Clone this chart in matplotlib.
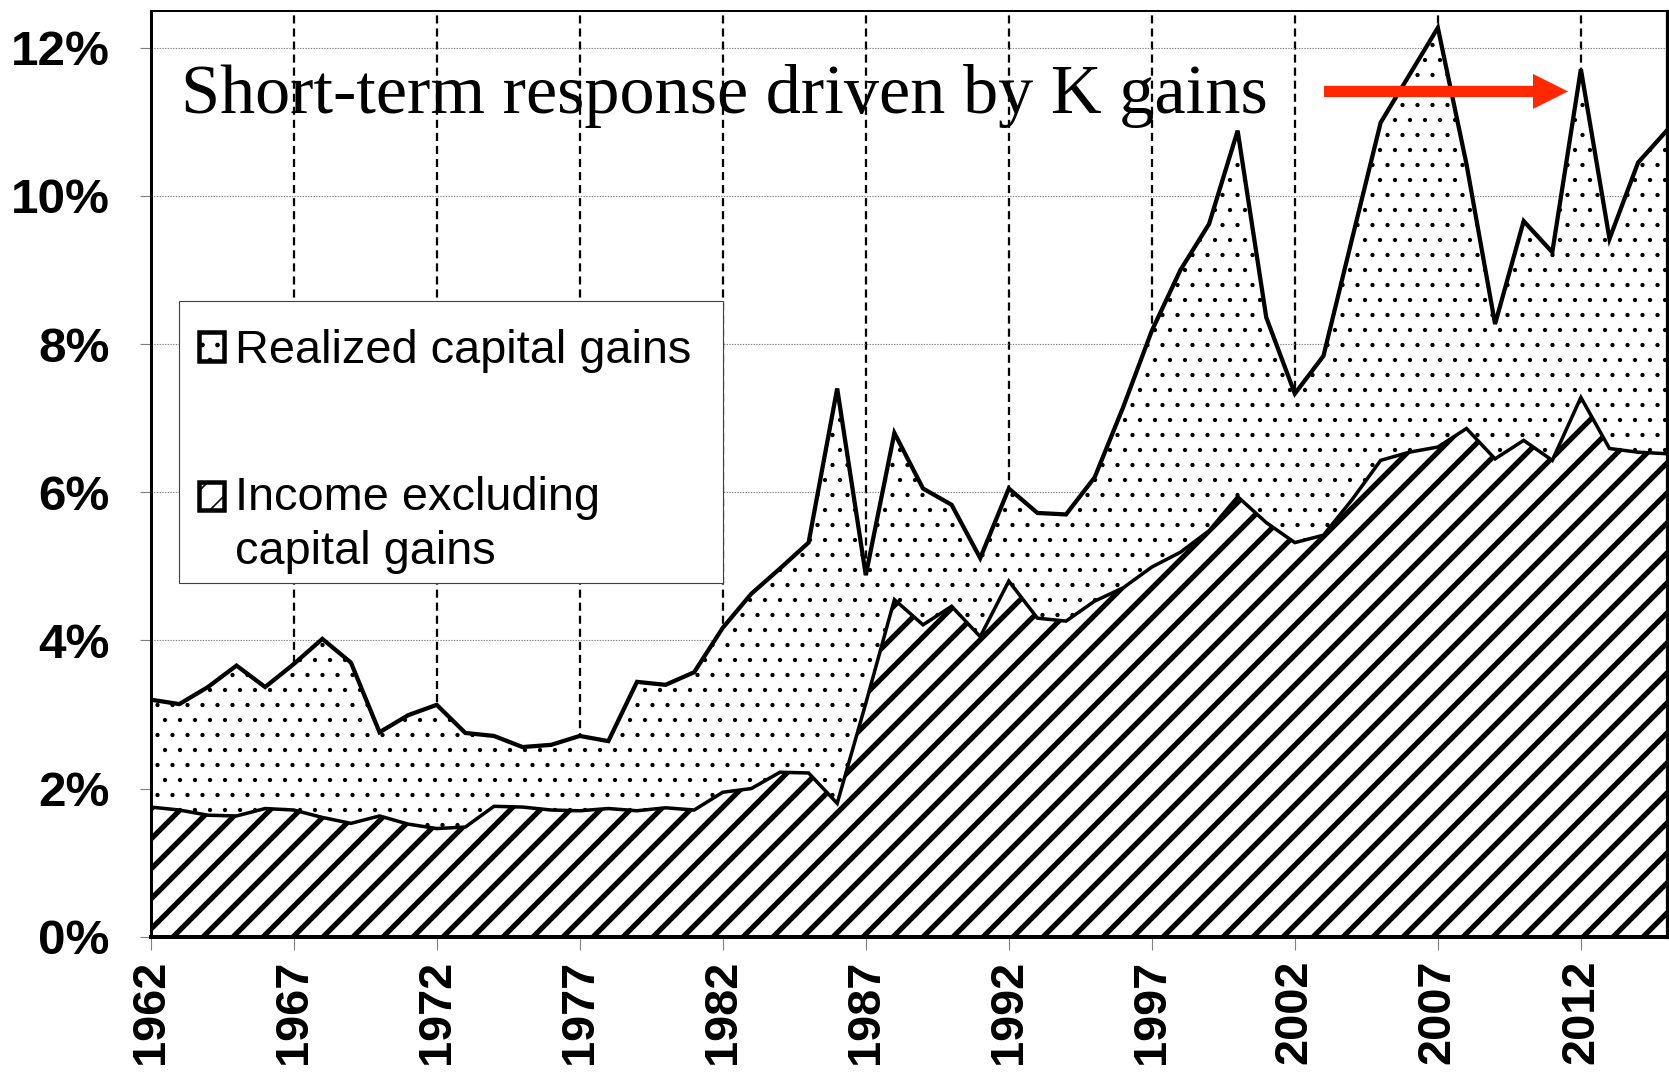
import matplotlib
matplotlib.use('Agg')
import matplotlib.pyplot as plt
from matplotlib.patches import Patch, Rectangle
from matplotlib.legend_handler import HandlerPatch
import numpy as np

# ---------------- data ----------------
years = list(range(1962, 2016))
income_ex_kg = [1.75, 1.71, 1.64, 1.63, 1.73, 1.71, 1.61, 1.53, 1.63, 1.52,
                1.46, 1.48, 1.76, 1.75, 1.71, 1.70, 1.73, 1.70, 1.74, 1.71,
                1.95, 2.00, 2.22, 2.21, 1.80, 3.15, 4.55, 4.21, 4.46, 4.05,
                4.80, 4.30, 4.26, 4.53, 4.71, 4.99, 5.19, 5.48, 5.94, 5.59,
                5.32, 5.42, 5.90, 6.43, 6.54, 6.61, 6.86, 6.45, 6.70, 6.43,
                7.28, 6.59, 6.54, 6.52]
realized_kg = [1.45, 1.43, 1.73, 2.03, 1.64, 1.97, 2.41, 2.17, 1.13, 1.47,
               1.67, 1.27, 0.95, 0.81, 0.88, 1.01, 0.91, 1.74, 1.66, 1.86,
               2.22, 2.63, 2.75, 3.11, 5.60, 1.73, 2.25, 1.84, 1.37, 1.06,
               1.25, 1.42, 1.44, 1.67, 2.44, 3.19, 3.81, 4.14, 4.94, 2.77,
               2.01, 2.42, 3.52, 4.56, 5.09, 5.66, 3.57, 1.82, 2.96, 2.81,
               4.43, 2.83, 3.91, 4.36]
x_tick_years = [1962, 1967, 1972, 1977, 1982, 1987, 1992, 1997, 2002, 2007, 2012]
x_tick_labels = [str(y) for y in x_tick_years]
y_ticks = [0, 2, 4, 6, 8, 10, 12]
y_tick_labels = ['0%', '2%', '4%', '6%', '8%', '10%', '12%']
legend_labels = ['Realized capital gains', 'Income excluding\ncapital gains']
annotation_text = 'Short-term response driven by K gains'
arrow_from = (2003.02, 11.41)
arrow_to = (2011.55, 11.41)

# ---------------- figure ----------------
DPI = 90
W, H = 1669, 1073
plt.rcParams['hatch.linewidth'] = 1.3
fig = plt.figure(figsize=(W / DPI, H / DPI), dpi=DPI)
ax_left, ax_right, ax_top, ax_bot = 150.7, 1666.7, 10.7, 936.7
ax = fig.add_axes([ax_left / W, 1 - ax_bot / H, (ax_right - ax_left) / W, (ax_bot - ax_top) / H])

x = np.array(years)
lower = np.array(income_ex_kg)
total = lower + np.array(realized_kg)

SANS = ['Liberation Sans', 'DejaVu Sans']
SERIF = ['Liberation Serif', 'DejaVu Serif']


def with_hatch_lw(artist, lw):
    """Draw an artist with its own hatch line width."""
    if hasattr(artist, 'set_hatch_linewidth'):
        artist.set_hatch_linewidth(lw)
    orig = artist.draw

    def draw(renderer, *args, **kwargs):
        with plt.rc_context({'hatch.linewidth': lw}):
            return orig(renderer, *args, **kwargs)
    artist.draw = draw


# dotted area (realized capital gains)
plt.rcParams['hatch.linewidth'] = 1.0
dots = ax.fill_between(x, lower, total, facecolor='white', edgecolor='black',
                       hatch='.', linewidth=0, zorder=1)
with_hatch_lw(dots, 1.0)
# hatched area (income excluding capital gains)
plt.rcParams['hatch.linewidth'] = 4.2
stripes = ax.fill_between(x, 0, lower, facecolor='white', edgecolor='black',
                          hatch='/', linewidth=0, zorder=1)
with_hatch_lw(stripes, 4.2)
plt.rcParams['hatch.linewidth'] = 1.3

ax.plot(x, total, color='black', lw=3.4, zorder=2, solid_joinstyle='miter')
ax.plot(x, lower, color='black', lw=2.8, zorder=2, solid_joinstyle='miter')

ax.set_xlim(1962, 2015)
ax.set_ylim(0, 12.5)

ax.set_axisbelow(True)
ax.yaxis.grid(True, color='#808080', linestyle=(0, (1.2, 1.2)), lw=0.9)
ax.xaxis.grid(True, color='black', linestyle=(0, (3.6, 2.2)), lw=1.8)

ax.set_xticks(x_tick_years)
ax.set_xticklabels(x_tick_labels, rotation=90, fontsize=37.5, fontweight='bold', family=SANS)
ax.set_yticks(y_ticks)
ax.set_yticklabels(y_tick_labels, fontsize=39.5, fontweight='bold', family=SANS)
ax.tick_params(axis='y', direction='out', length=9, width=0.9, color='#808080', pad=24)
ax.tick_params(axis='x', direction='out', length=10.5, width=0.9, color='#808080', pad=8)

for side, lw in (('left', 2.4), ('bottom', 3.2), ('right', 2.6), ('top', 1.6)):
    ax.spines[side].set_linewidth(lw)
    ax.spines[side].set_color('black')
    ax.spines[side].set_zorder(3)

ax.text((181 - ax_left) / (ax_right - ax_left), (ax_bot - 113) / (ax_bot - ax_top),
        annotation_text, transform=ax.transAxes, ha='left', va='baseline',
        fontsize=56.2, family=SERIF, color='black', zorder=0.4)

ax.annotate('', xy=arrow_to, xytext=arrow_from,
            arrowprops=dict(arrowstyle='simple,head_length=1.0,head_width=1.0,tail_width=0.32',
                            mutation_scale=28, color='#FF2800', lw=0,
                            shrinkA=0, shrinkB=0), zorder=5)

# ---------------- legend ----------------
FS = 37.5
h1 = Patch(facecolor='white', edgecolor='black', hatch='.', lw=3.6)
h2 = Patch(facecolor='white', edgecolor='black', hatch='/', lw=3.6)


def top_patch(legend, orig_handle, xdescent, ydescent, width, height, fontsize):
    return Rectangle((-xdescent, -ydescent + 0.64 * fontsize), width, height)


def plain_patch(legend, orig_handle, xdescent, ydescent, width, height, fontsize):
    return Rectangle((-xdescent, -ydescent), width, height)


def ax_fx(px):
    return (px - ax_left) / (ax_right - ax_left)


def ax_fy(py):
    return (ax_bot - py) / (ax_bot - ax_top)


# legend frame (exact box as in the original)
frame = Rectangle((ax_fx(179), ax_fy(582.5)), ax_fx(723) - ax_fx(179), ax_fy(301) - ax_fy(582.5),
                  transform=ax.transAxes, facecolor='white', edgecolor='#404040',
                  lw=0.9, zorder=3.9)
ax.add_patch(frame)

leg = ax.legend([h1, h2], legend_labels, loc='upper left',
                bbox_to_anchor=(ax_fx(170.5), ax_fy(301)),
                borderaxespad=0, borderpad=0.6, labelspacing=2.2,
                handlelength=0.55, handleheight=0.55, handletextpad=0.22,
                frameon=False, prop=dict(family=SANS, size=FS),
                handler_map={h1: HandlerPatch(patch_func=plain_patch),
                             h2: HandlerPatch(patch_func=top_patch)})
leg.set_zorder(4)
for t in leg.get_texts():
    t.set_linespacing(1.3)

fig.savefig('out.png', dpi=DPI)
